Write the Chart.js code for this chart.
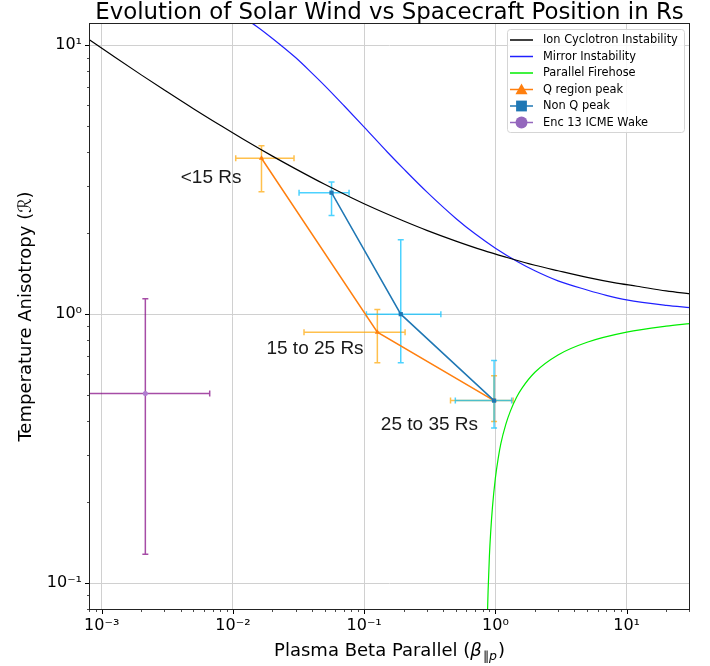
<!DOCTYPE html>
<html>
<head>
<meta charset="utf-8">
<script src="https://cdn.jsdelivr.net/npm/chart.js@4.4.0/dist/chart.umd.min.js"></script>
<style>
body { margin: 0; background: #fff; }
</style>
</head>
<body>
<canvas id="c" width="710" height="666"></canvas>
<script>
// instability thresholds
const icBeta = [0.0008, 0.0012, 0.002, 0.003, 0.005, 0.008, 0.012, 0.02, 0.03, 0.05, 0.08, 0.12, 0.2, 0.3, 0.5, 0.8, 1.2, 2, 3, 5, 8, 12, 20, 30.4];
const icR = [10.51, 9.18, 7.76, 6.82, 5.81, 5.04, 4.47, 3.87, 3.47, 3.04, 2.71, 2.47, 2.22, 2.05, 1.87, 1.73, 1.63, 1.52, 1.45, 1.37, 1.31, 1.27, 1.22, 1.19];

const mirBeta = [0.0125, 0.015, 0.02, 0.03, 0.04, 0.05, 0.07, 0.1, 0.15, 0.2, 0.3, 0.5, 0.7, 1, 1.5, 2, 3, 5, 7, 10, 20, 30.4];
const mirR = [12.5, 11.8, 10.6, 9.0, 7.88, 7.08, 5.97, 4.96, 4.01, 3.47, 2.85, 2.27, 1.99, 1.76, 1.56, 1.45, 1.33, 1.23, 1.175, 1.13, 1.079, 1.058];

const fhBeta = [0.87, 0.88, 0.9, 0.92, 0.95, 1.0, 1.05, 1.1, 1.2, 1.3, 1.45, 1.6, 2, 3, 5, 10, 20, 30.4];
const fhR = [0.077, 0.094, 0.126, 0.154, 0.192, 0.246, 0.291, 0.33, 0.389, 0.436, 0.491, 0.532, 0.608, 0.705, 0.786, 0.857, 0.902, 0.922];

// Q region peaks
const qBeta = [0.0165, 0.126, 0.977];
const qR = [3.80, 0.857, 0.477];
const qBetaLo = [0.0105, 0.0348, 0.455];
const qBetaHi = [0.0292, 0.205, 1.365];
const qRLo = [2.85, 0.66, 0.399];
const qRHi = [4.23, 1.04, 0.59];

// non Q peaks
const nqBeta = [0.0564, 0.190, 0.977];
const nqR = [2.83, 1.0, 0.477];
const nqBetaLo = [0.0319, 0.104, 0.495];
const nqBetaHi = [0.0767, 0.384, 1.33];
const nqRLo = [2.33, 0.66, 0.377];
const nqRHi = [3.10, 1.89, 0.672];

// Enc 13 ICME wake
const wBeta = [0.00215];
const wR = [0.507];
const wBetaLo = [0.0005];
const wBetaHi = [0.00665];
const wRLo = [0.128];
const wRHi = [1.14];

const regionLabels = ["<15 Rs", "15 to 25 Rs", "25 to 35 Rs"];
const regionBeta = [0.0040, 0.018, 0.134];
const regionR = [3.21, 0.741, 0.388];

const xTicks = [1e-3, 1e-2, 1e-1, 1, 10];
const yTicks = [1e-1, 1, 10];

function pts(xs, ys) {
    return xs.map((x, i) => ({ x: x, y: ys[i] }));
}

const SUP = { "-": "\u207B", "0": "\u2070", "1": "\u00B9", "2": "\u00B2", "3": "\u00B3" };
function powLabel(v) {
    let n = Math.round(Math.log10(v));
    return "10" + String(n).split("").map(ch => SUP[ch]).join("");
}

const errSets = [
    { b: qBeta, r: qR, bl: qBetaLo, bh: qBetaHi, rl: qRLo, rh: qRHi, color: "rgba(255,165,0,0.7)" },
    { b: nqBeta, r: nqR, bl: nqBetaLo, bh: nqBetaHi, rl: nqRLo, rh: nqRHi, color: "rgba(0,191,255,0.7)" },
    { b: wBeta, r: wR, bl: wBetaLo, bh: wBetaHi, rl: wRLo, rh: wRHi, color: "rgba(128,0,128,0.7)" }
];

const legendItems = [
    { text: "Ion Cyclotron Instability", color: "#000000" },
    { text: "Mirror Instability", color: "#2020ff" },
    { text: "Parallel Firehose", color: "#00ee00" },
    { text: "Q region peak", color: "#ff7f0e", marker: "tri" },
    { text: "Non Q peak", color: "#1f77b4", marker: "sq" },
    { text: "Enc 13 ICME Wake", color: "#9467bd", marker: "dot" }
];

function drawMarker(ctx, kind, x, y, s, color) {
    ctx.fillStyle = color;
    ctx.beginPath();
    if (kind == "tri") {
        ctx.moveTo(x, y - s);
        ctx.lineTo(x - s, y + s * 0.8);
        ctx.lineTo(x + s, y + s * 0.8);
        ctx.closePath();
    } else if (kind == "sq") {
        ctx.rect(x - s * 0.9, y - s * 0.9, s * 1.8, s * 1.8);
    } else {
        ctx.arc(x, y, s, 0, Math.PI * 2);
    }
    ctx.fill();
}

const extras = {
    id: "extras",
    beforeDatasetsDraw(chart) {
        const ctx = chart.ctx, a = chart.chartArea;
        const xs = chart.scales.x, ys = chart.scales.y;
        ctx.save();
        ctx.beginPath();
        ctx.rect(a.left, a.top, a.right - a.left, a.bottom - a.top);
        ctx.clip();
        ctx.lineWidth = 1.5;
        errSets.forEach(s => {
            ctx.strokeStyle = s.color;
            s.b.forEach((b, i) => {
                let px = xs.getPixelForValue(b), py = ys.getPixelForValue(s.r[i]);
                let x0 = xs.getPixelForValue(s.bl[i]), x1 = xs.getPixelForValue(s.bh[i]);
                let y0 = ys.getPixelForValue(s.rl[i]), y1 = ys.getPixelForValue(s.rh[i]);
                ctx.beginPath();
                ctx.moveTo(x0, py); ctx.lineTo(x1, py);
                ctx.moveTo(px, y0); ctx.lineTo(px, y1);
                ctx.moveTo(x0, py - 3); ctx.lineTo(x0, py + 3);
                ctx.moveTo(x1, py - 3); ctx.lineTo(x1, py + 3);
                ctx.moveTo(px - 3, y0); ctx.lineTo(px + 3, y0);
                ctx.moveTo(px - 3, y1); ctx.lineTo(px + 3, y1);
                ctx.stroke();
            });
        });
        ctx.restore();
    },
    afterDraw(chart) {
        const ctx = chart.ctx, a = chart.chartArea;
        const xs = chart.scales.x, ys = chart.scales.y;
        ctx.save();

        // ticks (major + minor)
        ctx.strokeStyle = "#000";
        for (let e = -4; e <= 1; e++) {
            for (let m = 1; m <= 9; m++) {
                let v = m * Math.pow(10, e);
                let len = m == 1 ? 4 : 2, lw = m == 1 ? 1 : 0.7;
                ctx.lineWidth = lw;
                if (v >= xs.min && v <= xs.max) {
                    let px = Math.round(xs.getPixelForValue(v)) + 0.5;
                    ctx.beginPath(); ctx.moveTo(px, a.bottom); ctx.lineTo(px, a.bottom + len); ctx.stroke();
                }
                if (v >= ys.min && v <= ys.max) {
                    let py = Math.round(ys.getPixelForValue(v)) + 0.5;
                    ctx.beginPath(); ctx.moveTo(a.left, py); ctx.lineTo(a.left - len, py); ctx.stroke();
                }
            }
        }

        // frame
        ctx.strokeStyle = "#222";
        ctx.lineWidth = 1;
        ctx.strokeRect(a.left + 0.5, a.top + 0.5, a.right - a.left - 1, a.bottom - a.top - 1);

        // region labels
        ctx.fillStyle = "#1a1a1a";
        ctx.font = "19px 'Liberation Sans'";
        ctx.textAlign = "left";
        ctx.textBaseline = "middle";
        regionLabels.forEach((t, i) => {
            ctx.fillText(t, xs.getPixelForValue(regionBeta[i]), ys.getPixelForValue(regionR[i]));
        });

        // title
        ctx.fillStyle = "#000";
        ctx.textAlign = "center";
        ctx.textBaseline = "alphabetic";
        ctx.font = "22.9px 'DejaVu Sans'";
        ctx.fillText("Evolution of Solar Wind vs Spacecraft Position in Rs", (a.left + a.right) / 2, 18.5);

        // x axis title with subscript
        ctx.textAlign = "left";
        let f1 = "18px 'DejaVu Sans'", f2 = "italic 18px 'DejaVu Sans'", f3 = "12.5px 'DejaVu Sans'", f4 = "italic 12.5px 'DejaVu Sans'";
        let p1 = "Plasma Beta Parallel (", p2 = "\u03B2", p3 = "\u2225", p4 = "p", p5 = ")";
        ctx.font = f1; let w1 = ctx.measureText(p1).width, w5 = ctx.measureText(p5).width;
        ctx.font = f2; let w2 = ctx.measureText(p2).width;
        ctx.font = f3; let w3 = ctx.measureText(p3).width;
        ctx.font = f4; let w4 = ctx.measureText(p4).width;
        let tot = w1 + w2 + w3 + w4 + w5 + 2;
        let x = (a.left + a.right) / 2 - tot / 2, by = 656;
        ctx.font = f1; ctx.fillText(p1, x, by); x += w1;
        ctx.font = f2; ctx.fillText(p2, x, by); x += w2 + 1;
        ctx.font = f3; ctx.fillText(p3, x, by + 4); x += w3;
        ctx.font = f4; ctx.fillText(p4, x, by + 4); x += w4 + 1;
        ctx.font = f1; ctx.fillText(p5, x, by);

        // y axis title
        ctx.save();
        ctx.translate(31, (a.top + a.bottom) / 2);
        ctx.rotate(-Math.PI / 2);
        ctx.textAlign = "center";
        ctx.font = f1;
        ctx.fillText("Temperature Anisotropy (\u211B)", 0, 0);
        ctx.restore();

        // legend
        let lx = 507, ly = 29, lw = 177, lh = 103;
        ctx.fillStyle = "rgba(255,255,255,0.85)";
        ctx.strokeStyle = "#d5d5d5";
        ctx.lineWidth = 1;
        ctx.beginPath();
        ctx.roundRect(lx + 0.5, ly + 0.5, lw, lh, 3);
        ctx.fill();
        ctx.stroke();
        ctx.font = "11.4px 'DejaVu Sans'";
        ctx.textBaseline = "middle";
        ctx.textAlign = "left";
        legendItems.forEach((it, i) => {
            let y = 40 + i * 16.5;
            ctx.strokeStyle = it.color;
            ctx.lineWidth = 1.5;
            ctx.beginPath(); ctx.moveTo(510, y); ctx.lineTo(533, y); ctx.stroke();
            if (it.marker) drawMarker(ctx, it.marker, 521.5, y, 6, it.color);
            ctx.fillStyle = "#000";
            ctx.fillText(it.text, 543, y + 0.5);
        });

        ctx.restore();
    }
};

const tickFont = { family: "DejaVu Sans", size: 16 };

new Chart(document.getElementById("c"), {
    type: "scatter",
    data: {
        datasets: [
            { label: "Ion Cyclotron Instability", data: pts(icBeta, icR), showLine: true, borderColor: "#000000", borderWidth: 1.2, pointRadius: 0, cubicInterpolationMode: "monotone", order: 3 },
            { label: "Mirror Instability", data: pts(mirBeta, mirR), showLine: true, borderColor: "#2020ff", borderWidth: 1.2, pointRadius: 0, cubicInterpolationMode: "monotone", order: 3 },
            { label: "Parallel Firehose", data: pts(fhBeta, fhR), showLine: true, borderColor: "#00ee00", borderWidth: 1.2, pointRadius: 0, cubicInterpolationMode: "monotone", order: 3 },
            { label: "Q region peak", data: pts(qBeta, qR), showLine: true, borderColor: "#ff7f0e", backgroundColor: "#ff7f0e", borderWidth: 1.5, pointStyle: "triangle", pointRadius: 3, pointBorderWidth: 0, order: 1 },
            { label: "Non Q peak", data: pts(nqBeta, nqR), showLine: true, borderColor: "#1f77b4", backgroundColor: "#1f77b4", borderWidth: 1.5, pointStyle: "rect", pointRadius: 3, pointBorderWidth: 0, order: 0 },
            { label: "Enc 13 ICME Wake", data: pts(wBeta, wR), showLine: false, borderColor: "#b07cd0", backgroundColor: "#b07cd0", pointStyle: "circle", pointRadius: 2.5, pointBorderWidth: 0, order: 0 }
        ]
    },
    options: {
        responsive: false,
        animation: false,
        layout: { padding: { top: 23, right: 20, left: 0, bottom: 0 } },
        plugins: { legend: { display: false }, title: { display: false }, tooltip: { enabled: false } },
        scales: {
            x: {
                type: "logarithmic", min: 8.0e-4, max: 30.4,
                afterBuildTicks: s => { s.ticks = xTicks.map(v => ({ value: v })); },
                afterFit: s => { s.height = 56; s.paddingLeft = 0; s.paddingRight = 0; },
                grid: { color: "#d0d0d0", lineWidth: 1, drawTicks: false },
                border: { display: false },
                ticks: { font: tickFont, color: "#000", padding: 6, maxRotation: 0, autoSkip: false, callback: v => powLabel(v) }
            },
            y: {
                type: "logarithmic", min: 0.0794, max: 12.1,
                afterBuildTicks: s => { s.ticks = yTicks.map(v => ({ value: v })); },
                afterFit: s => { s.width = 89; s.paddingTop = 0; s.paddingBottom = 0; },
                grid: { color: "#d0d0d0", lineWidth: 1, drawTicks: false },
                border: { display: false },
                ticks: { font: tickFont, color: "#000", padding: 7, autoSkip: false, callback: v => powLabel(v) }
            }
        }
    },
    plugins: [extras]
});
</script>
</body>
</html>
